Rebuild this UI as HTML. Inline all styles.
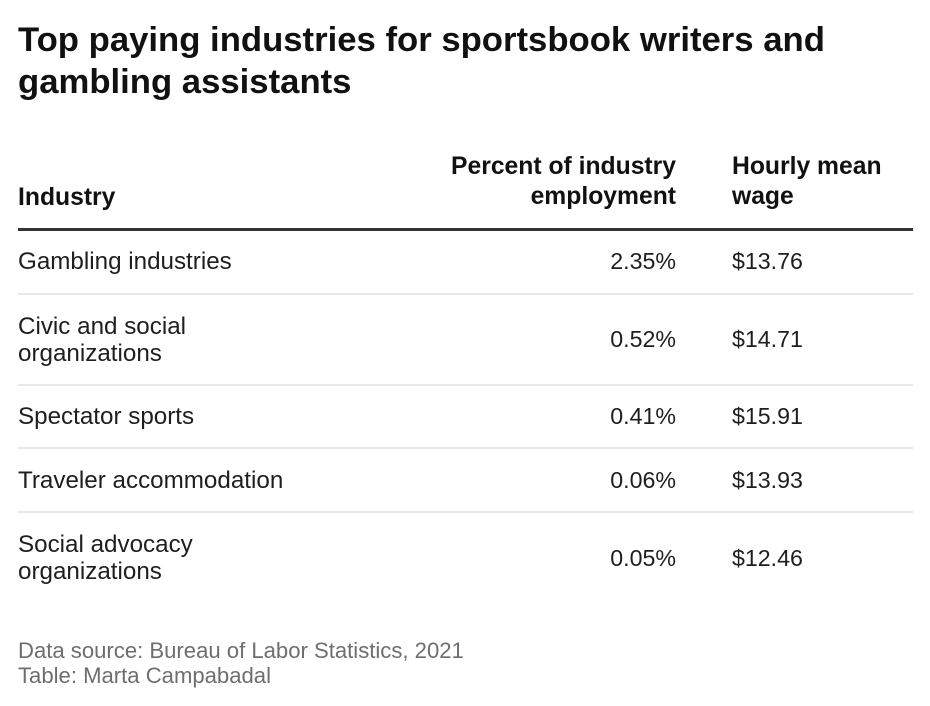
<!DOCTYPE html>
<html>
<head>
<meta charset="utf-8">
<style>
  html, body { margin:0; padding:0; background:#ffffff; }
  body { width:930px; height:706px; position:relative; overflow:hidden; font-family:"Liberation Sans", Arial, sans-serif; color:#1e1e1e; }
  .a { position:absolute; white-space:nowrap; }
  .title { left:18px; top:19.3px; font-size:34.7px; line-height:42px; font-weight:bold; color:#111; }
  .hd { font-size:24.7px; line-height:30px; font-weight:bold; color:#111; }
  .tx { left:18px; font-size:24.2px; line-height:27px; }
  .pc { right:254px; text-align:right; font-size:23.2px; line-height:27px; }
  .wg { left:732px; font-size:23.2px; line-height:27px; }
  .rule { position:absolute; left:18px; width:895px; }
  .foot { left:18px; top:638px; font-size:22.1px; line-height:25px; color:#6e6e6e; }
</style>
</head>
<body>
  <div class="a title">Top paying industries for sportsbook writers and<br>gambling assistants</div>

  <div class="a hd" style="left:18px; top:183px;">Industry</div>
  <div class="a hd" style="right:254px; top:152.3px; text-align:right;">Percent of industry<br>employment</div>
  <div class="a hd" style="left:732px; top:152.3px;">Hourly mean<br>wage</div>

  <div class="rule" style="top:228px; height:3px; background:#333;"></div>

  <!-- Row 1 -->
  <div class="a tx" style="top:248.2px;">Gambling industries</div>
  <div class="a pc" style="top:248.4px;">2.35%</div>
  <div class="a wg" style="top:248.4px;">$13.76</div>
  <div class="rule" style="top:293px; height:2px; background:#e8e8e8;"></div>

  <!-- Row 2 -->
  <div class="a tx" style="top:312.5px;">Civic and social<br>organizations</div>
  <div class="a pc" style="top:326px;">0.52%</div>
  <div class="a wg" style="top:326px;">$14.71</div>
  <div class="rule" style="top:384px; height:2px; background:#e8e8e8;"></div>

  <!-- Row 3 -->
  <div class="a tx" style="top:402.8px;">Spectator sports</div>
  <div class="a pc" style="top:403px;">0.41%</div>
  <div class="a wg" style="top:403px;">$15.91</div>
  <div class="rule" style="top:447px; height:2px; background:#e8e8e8;"></div>

  <!-- Row 4 -->
  <div class="a tx" style="top:466.8px;">Traveler accommodation</div>
  <div class="a pc" style="top:467px;">0.06%</div>
  <div class="a wg" style="top:467px;">$13.93</div>
  <div class="rule" style="top:511px; height:2px; background:#e8e8e8;"></div>

  <!-- Row 5 -->
  <div class="a tx" style="top:530.8px;">Social advocacy<br>organizations</div>
  <div class="a pc" style="top:544.5px;">0.05%</div>
  <div class="a wg" style="top:544.5px;">$12.46</div>

  <div class="a foot">Data source: Bureau of Labor Statistics, 2021<br>Table: Marta Campabadal</div>
</body>
</html>
